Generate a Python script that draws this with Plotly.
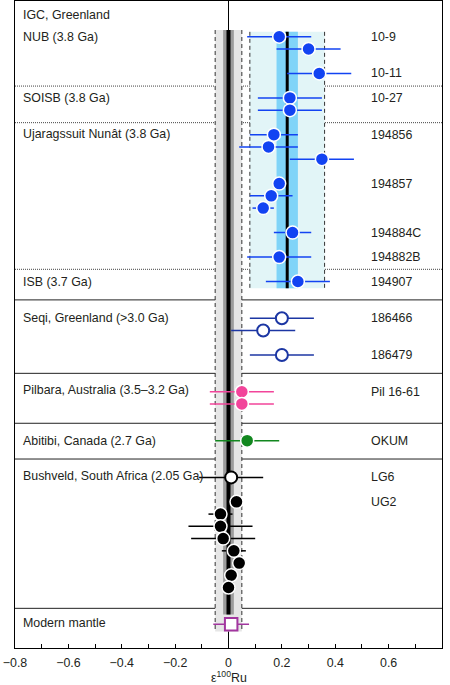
import plotly.graph_objects as go

# ---------------- data ----------------
# IGC, Greenland (filled blue)
igc_rows = [3, 4, 6, 8, 9, 11, 12, 13, 15, 16, 17, 19, 21, 23]
igc_x = [0.19, 0.30, 0.34, 0.23, 0.23, 0.17, 0.15, 0.35, 0.19, 0.16, 0.13, 0.24, 0.19, 0.26]
igc_err = [0.12, 0.12, 0.12, 0.12, 0.12, 0.09, 0.11, 0.12, 0.02, 0.08, 0.04, 0.07, 0.12, 0.12]

# Seqi, Greenland (open dark blue)
seqi_rows = [26, 27, 29]
seqi_x = [0.20, 0.13, 0.20]
seqi_err = [0.12, 0.12, 0.12]

# Pilbara (pink)
pil_rows = [32, 33]
pil_x = [0.05, 0.05]
pil_err = [0.12, 0.12]

# Abitibi (green)
abi_rows = [36]
abi_x = [0.07]
abi_err = [0.12]

# Bushveld LG6 (open black) and UG2 (filled black)
lg6_rows = [39]
lg6_x = [0.01]
lg6_err = [0.12]
ug2_rows = [41, 42, 43, 44, 45, 46, 47, 48]
ug2_x = [0.03, -0.03, -0.03, -0.02, 0.02, 0.04, 0.01, 0.00]
ug2_err = [0.02, 0.045, 0.12, 0.12, 0.045, 0.02, 0.02, 0.02]

# Modern mantle (open purple square)
mm_rows = [51]
mm_x = [0.01]
mm_err = [0.067]

# group labels (left) and sample labels (right)
group_labels = ["IGC, Greenland", "NUB (3.8 Ga)", "SOISB (3.8 Ga)", "Ujaragssuit Nunât (3.8 Ga)",
                "ISB (3.7 Ga)", "Seqi, Greenland (>3.0 Ga)", "Pilbara, Australia (3.5–3.2 Ga)",
                "Abitibi, Canada (2.7 Ga)", "Bushveld, South Africa (2.05 Ga)", "Modern mantle"]
group_rows = [1.2, 3, 8, 10.95, 23, 26, 31.9, 36, 38.9, 50.9]
sample_labels = ["10-9", "10-11", "10-27", "194856", "194857", "194884C", "194882B", "194907",
                 "186466", "186479", "Pil 16-61", "OKUM", "LG6", "UG2"]
sample_rows = [3, 6, 8, 11, 15, 19, 21, 23, 26, 29, 32, 36, 39, 41.05]

# separators
dotted_rows = [7.03, 10.02, 22.0]
solid_rows = [24.5, 30.5, 34.58, 37.5, 49.7]

# reference bands
mantle_mean, mantle_outer, mantle_inner = 0.0, 0.05, 0.02
mantle_rows = [2.45, 51.6, 50.2]
igc_mean, igc_outer_lo, igc_outer_hi, igc_inner = 0.22, 0.08, 0.36, 0.04
igc_band_rows = [2.6, 23.55]

x_ticks = [-0.8, -0.6, -0.4, -0.2, 0, 0.2, 0.4, 0.6, 0.8]
y_range = [52.94, 0.08]

FONT = "Liberation Sans, Arial, sans-serif"
TXT = "#231f20"
FS = 12.4

fig = go.Figure()

shapes = []
# thin zero line full height
shapes.append(dict(type="line", xref="x", yref="paper", x0=0, x1=0, y0=0, y1=1,
                   line=dict(color="black", width=1), layer="below"))
# modern mantle band
shapes.append(dict(type="rect", xref="x", yref="y", x0=mantle_mean - mantle_outer, x1=mantle_mean + mantle_outer,
                   y0=mantle_rows[0], y1=mantle_rows[1], fillcolor="#e6e6e6", line=dict(width=0), layer="below"))
shapes.append(dict(type="rect", xref="x", yref="y", x0=mantle_mean - mantle_inner, x1=mantle_mean + mantle_inner,
                   y0=mantle_rows[0], y1=mantle_rows[2], fillcolor="#9c9c9c", line=dict(width=0), layer="below"))
shapes.append(dict(type="line", xref="x", yref="y", x0=mantle_mean, x1=mantle_mean,
                   y0=mantle_rows[0], y1=mantle_rows[2], line=dict(color="black", width=4), layer="below"))
for xv in [mantle_mean - mantle_outer, mantle_mean + mantle_outer]:
    shapes.append(dict(type="line", xref="x", yref="y", x0=xv, x1=xv, y0=mantle_rows[0], y1=mantle_rows[1],
                       line=dict(color="#333333", width=1, dash="4px,3px"), layer="below"))
# IGC band
shapes.append(dict(type="rect", xref="x", yref="y", x0=igc_outer_lo, x1=igc_outer_hi,
                   y0=igc_band_rows[0], y1=igc_band_rows[1], fillcolor="#e2f5f7", line=dict(width=0), layer="below"))
shapes.append(dict(type="rect", xref="x", yref="y", x0=igc_mean - igc_inner, x1=igc_mean + igc_inner,
                   y0=igc_band_rows[0], y1=igc_band_rows[1], fillcolor="#80d4f8", line=dict(width=0), layer="below"))
shapes.append(dict(type="line", xref="x", yref="y", x0=igc_mean, x1=igc_mean,
                   y0=igc_band_rows[0], y1=igc_band_rows[1], line=dict(color="black", width=3), layer="below"))
for xv in [igc_outer_lo, igc_outer_hi]:
    shapes.append(dict(type="line", xref="x", yref="y", x0=xv, x1=xv, y0=igc_band_rows[0], y1=igc_band_rows[1],
                       line=dict(color="#333333", width=1, dash="4px,3px"), layer="below"))
# separators
for r in dotted_rows:
    shapes.append(dict(type="line", xref="paper", yref="y", x0=0, x1=1, y0=r, y1=r,
                       line=dict(color="#444444", width=1, dash="1px,1px"), layer="below"))
for r in solid_rows:
    shapes.append(dict(type="line", xref="paper", yref="y", x0=0, x1=1, y0=r, y1=r,
                       line=dict(color="#222222", width=1), layer="below"))


def add(xs, ys, errs, color, fill, symbol="circle", size=13, lw=1.5, lcol="white"):
    fig.add_trace(go.Scatter(
        x=xs, y=ys, mode="markers",
        error_x=dict(type="data", array=errs, symmetric=True, color=color, thickness=1.5, width=0),
        marker=dict(symbol=symbol, size=size, color=fill, line=dict(color=lcol, width=lw)),
        showlegend=False, hoverinfo="skip"))


add(igc_x, igc_rows, igc_err, "#1243f2", "#1243f2")
add(seqi_x, seqi_rows, seqi_err, "#1c36a3", "white", size=12, lw=2, lcol="#1c36a3")
add(pil_x, pil_rows, pil_err, "#f2449a", "#f2449a")
add(abi_x, abi_rows, abi_err, "#12871f", "#12871f")
add(lg6_x, lg6_rows, lg6_err, "black", "white", size=12, lw=2, lcol="black")
add(ug2_x, ug2_rows, ug2_err, "black", "black")
add(mm_x, mm_rows, mm_err, "#a2369f", "white", symbol="square", size=12.5, lw=2, lcol="#a2369f")

annotations = []
for t, r in zip(group_labels, group_rows):
    annotations.append(dict(text=t, x=-0.778, y=r, xref="x", yref="y", xanchor="left", yanchor="middle",
                            showarrow=False, font=dict(family=FONT, size=FS, color=TXT)))
for t, r in zip(sample_labels, sample_rows):
    annotations.append(dict(text=t, x=0.526, y=r, xref="x", yref="y", xanchor="left", yanchor="middle",
                            showarrow=False, font=dict(family=FONT, size=FS, color=TXT)))
annotations.append(dict(text="ε<sup>100</sup>Ru", x=0, y=0, xref="x", yref="paper", xanchor="center",
                        yanchor="middle", yshift=-29, showarrow=False, font=dict(family=FONT, size=FS, color=TXT)))

fig.update_layout(
    width=450, height=685,
    margin=dict(l=15, r=8, t=1, b=37),
    paper_bgcolor="white", plot_bgcolor="white",
    shapes=shapes, annotations=annotations,
    xaxis=dict(range=[-0.8, 0.8], tickvals=x_ticks, ticks="inside", ticklen=4, tickwidth=1, tickcolor="black",
               minor=dict(dtick=0.1, ticks="inside", ticklen=4, tickwidth=1, tickcolor="black"),
               showline=True, linecolor="black", linewidth=1, mirror=True, showgrid=False, zeroline=False,
               ticklabelstandoff=3,
               tickfont=dict(family=FONT, size=FS, color=TXT)),
    yaxis=dict(range=y_range, showticklabels=False, ticks="", showline=True, linecolor="black", linewidth=1,
               mirror=True, showgrid=False, zeroline=False),
)

fig.write_html("out.html", config={"displayModeBar": False},
               post_script="document.body.style.margin='0';document.body.style.overflow='hidden';")
